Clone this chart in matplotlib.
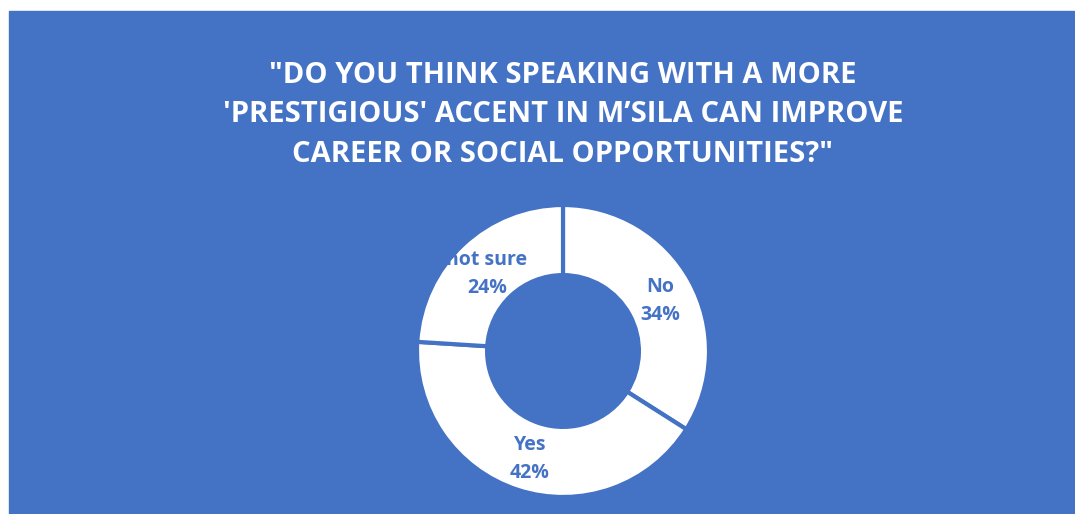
import matplotlib.pyplot as plt
from matplotlib.patches import Rectangle

labels = ["No", "Yes", "not sure"]
values = [34, 42, 24]
title = ("\"DO YOU THINK SPEAKING WITH A MORE\n"
         "'PRESTIGIOUS' ACCENT IN M\u2019SILA CAN IMPROVE\n"
         "CAREER OR SOCIAL OPPORTUNITIES?\"")

blue = "#4472C4"
W, H = 1075, 514

fig = plt.figure(figsize=(W / 100, H / 100), dpi=100, facecolor="white")
fig.patches.append(Rectangle((9 / W, 0), (W - 10) / W, (H - 11) / H,
                             transform=fig.transFigure, color=blue, zorder=-1))

fig.text(563 / W, 1 - 115 / H, title, ha="center", va="center", color="white",
         fontsize=21, fontweight="bold", family="Open Sans",
         linespacing=1.48)

# donut: center (563, 351), outer radius 146 px
r = 146
cx, cy = 563, 351
ax = fig.add_axes([(cx - r) / W, 1 - (cy + r) / H, 2 * r / W, 2 * r / H])
ax.set_zorder(2)
ax.patch.set_visible(False)
wedges, _ = ax.pie(values, startangle=90, counterclock=False,
                   colors=["white"] * 3,
                   wedgeprops=dict(width=0.48, edgecolor=blue, linewidth=3))
ax.set_aspect("equal")
ax.set_xlim(-1, 1)
ax.set_ylim(-1, 1)
ax.axis("off")

label_pos = [(660, 301), (530, 459), (487, 274)]
for lab, v, (x, y) in zip(labels, values, label_pos):
    fig.text(x / W, 1 - y / H, f"{lab}\n{v}%", ha="center", va="center",
             color=blue, fontsize=14, fontweight="bold", family="Open Sans",
             linespacing=1.53, zorder=5)

fig.savefig("out.png", dpi=100, facecolor="white")
